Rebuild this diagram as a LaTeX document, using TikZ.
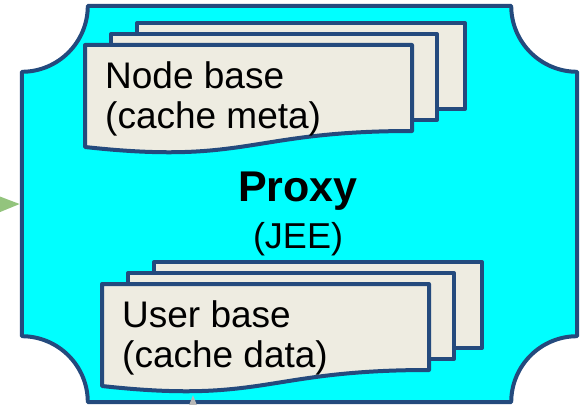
\documentclass[tikz,border=0pt]{standalone}
\usepackage{fontspec}
\setmainfont{Liberation Sans}
\usetikzlibrary{arrows.meta,positioning}
\definecolor{proxyCyan}{RGB}{0,255,255}
\definecolor{proxyEdge}{RGB}{36,74,125}
\definecolor{sheetFill}{RGB}{238,236,225}
\definecolor{feedGreen}{RGB}{147,196,125}
\definecolor{feedGray}{RGB}{183,183,183}

% stack of three sheets: node name, x, y of the front sheet, text
\newcommand{\docstack}[4]{%
  \begin{scope}[shift={(#2,#3)}]
    \draw[sheet] (52,-22) rectangle ++(328,86);
    \draw[sheet] (26,-11) rectangle ++(326,86);
    \draw[sheet] (0,0) -- (327,0) -- (327,86) .. controls (163,86) and (163,120) .. (0,102) -- cycle;
    \node[doctext] (#1) at (20,83) {#4};
  \end{scope}}

\begin{document}
\begin{tikzpicture}[x=1pt,y=-1pt,
    frameline/.style={draw=proxyEdge,line width=4pt,fill=proxyCyan,line join=round},
    sheet/.style={draw=proxyEdge,line width=4pt,fill=sheetFill,line join=round},
    doctext/.style={anchor=base west,align=left,inner sep=0pt,font=\fontsize{37}{40}\selectfont},
    feed/.style={-{Triangle[length=24pt,width=18pt]},line width=3pt}
  ]
  \useasboundingbox (0,0) rectangle (583,404);
  \node[minimum width=555pt,minimum height=396pt,inner sep=0pt] (frame) at (299.5,204) {};
  \draw[frameline] ([xshift=66pt]frame.north west) -- ([xshift=-66pt]frame.north east)
    arc[start angle=180,end angle=270,radius=66pt]
    -- ([yshift=66pt]frame.south east)
    arc[start angle=90,end angle=180,radius=66pt]
    -- ([xshift=66pt]frame.south west)
    arc[start angle=0,end angle=90,radius=66pt]
    -- ([yshift=-66pt]frame.north west)
    arc[start angle=270,end angle=360,radius=66pt] -- cycle;

  \docstack{nodebase}{85}{45}{Node base\\(cache meta)}
  \docstack{userbase}{102}{284}{User base\\(cache data)}

  \node[anchor=base,font=\fontsize{43}{47}\bfseries] (proxy) at (298,201) {Proxy};
  \node[anchor=base,font=\fontsize{36}{40}\selectfont] (jee) at (298,248) {(JEE)};

  % feeds coming in from outside
  \coordinate (leftIn) at (-60,205);
  \coordinate (userFoot) at (193,395);
  \coordinate (bottomIn) at (193,460);
  \draw[feed,feedGreen,shorten >=2pt] (leftIn) -- (frame.west);
  \draw[feed,feedGray] (bottomIn) -- (userFoot);
\end{tikzpicture}
\end{document}
